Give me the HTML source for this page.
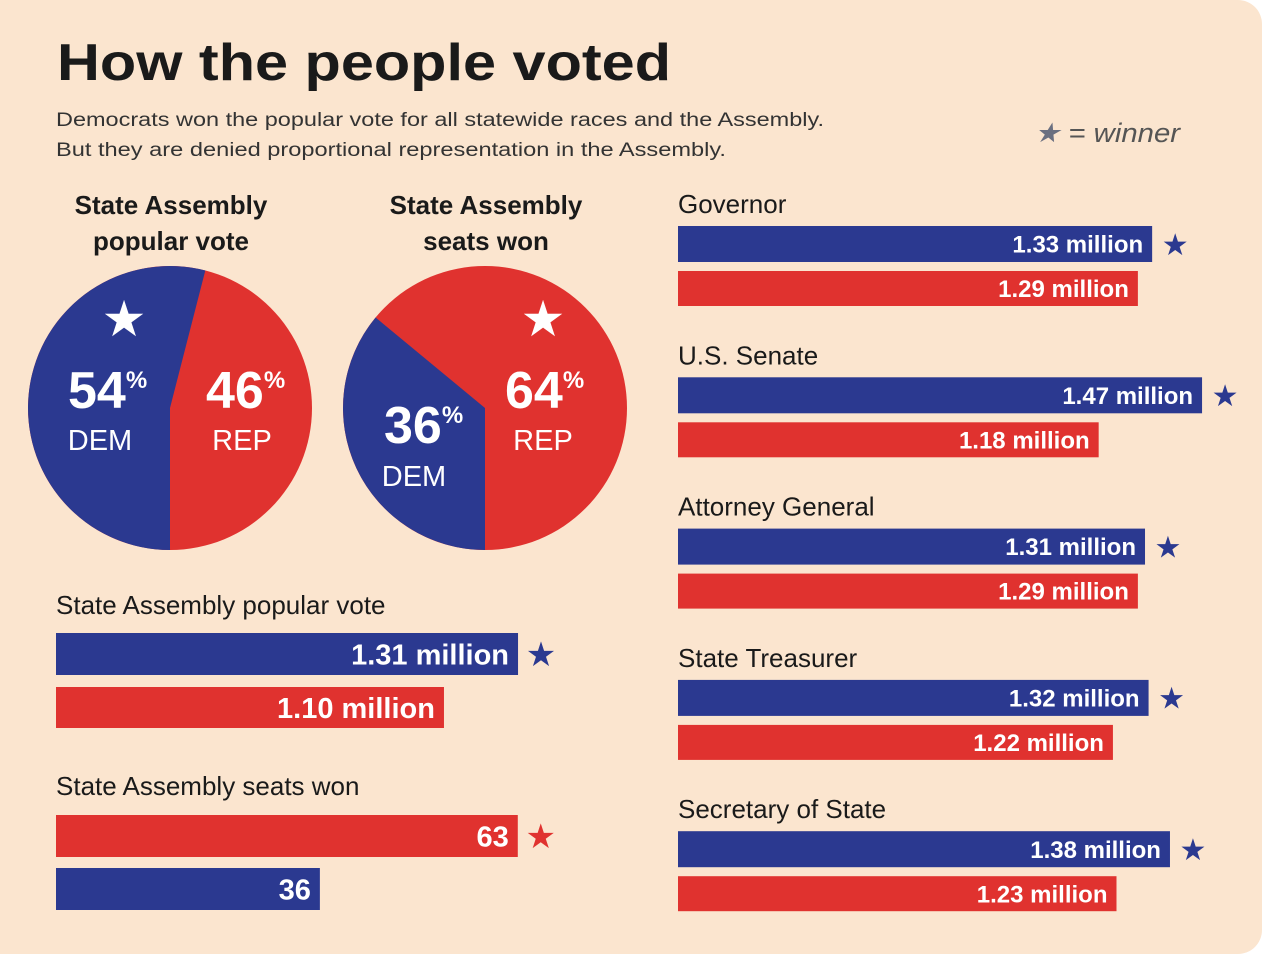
<!DOCTYPE html>
<html><head><meta charset="utf-8"><style>
html,body{margin:0;padding:0;background:#fff}
#wrap{width:1262px;height:954px;background:#fbe5cf;border-radius:0 24px 24px 0;overflow:hidden;position:relative}
svg{position:absolute;left:0;top:0}
text{font-family:"Liberation Sans",sans-serif}
</style></head><body>
<div id="wrap">
<svg id="c" width="1262" height="954">
<text x="57" y="80" font-size="52" font-weight="bold" fill="#1a1a1a" textLength="614" lengthAdjust="spacingAndGlyphs">How the people voted</text>
<text x="56" y="126" font-size="19" fill="#333" textLength="768" lengthAdjust="spacingAndGlyphs">Democrats won the popular vote for all statewide races and the Assembly.</text>
<text x="56" y="156" font-size="19" fill="#333" textLength="670" lengthAdjust="spacingAndGlyphs">But they are denied proportional representation in the Assembly.</text>
<text x="1034" y="142" font-size="27" font-style="italic" fill="#555" textLength="146" lengthAdjust="spacingAndGlyphs"><tspan fill="#6a6f80">★</tspan> = winner</text>
<text x="171" y="214" font-size="26" font-weight="bold" fill="#1a1a1a" text-anchor="middle">State Assembly</text>
<text x="171" y="250" font-size="26" font-weight="bold" fill="#1a1a1a" text-anchor="middle">popular vote</text>
<text x="486" y="214" font-size="26" font-weight="bold" fill="#1a1a1a" text-anchor="middle">State Assembly</text>
<text x="486" y="250" font-size="26" font-weight="bold" fill="#1a1a1a" text-anchor="middle">seats won</text>
</svg>
</div>
<script>
const BLUE="#2b3990", RED="#e0322f";
const pieDem=[54,36];
const pieRep=[46,64];
const pieWinner=["dem","rep"];
const leftCats=["State Assembly popular vote","State Assembly seats won"];
const leftVoteVals=[1.31,1.10];
const leftVoteLabels=["1.31 million","1.10 million"];
const leftSeatVals=[63,36];
const leftSeatLabels=["63","36"];
const raceCats=["Governor","U.S. Senate","Attorney General","State Treasurer","Secretary of State"];
const demVotes=[1.33,1.47,1.31,1.32,1.38];
const repVotes=[1.29,1.18,1.29,1.22,1.23];
const demLabels=["1.33 million","1.47 million","1.31 million","1.32 million","1.38 million"];
const repLabels=["1.29 million","1.18 million","1.29 million","1.22 million","1.23 million"];

const svg=document.getElementById('c');
const NS="http://www.w3.org/2000/svg";
function mk(tag,attrs,txt){const e=document.createElementNS(NS,tag);for(const k in attrs)e.setAttribute(k,attrs[k]);if(txt!==undefined)e.textContent=txt;svg.appendChild(e);return e;}

const pieCx=[170,485], pieCy=408, R=142;
function pt(cx,deg){const a=deg*Math.PI/180;return [cx+R*Math.sin(a),pieCy-R*Math.cos(a)];}
for(let i=0;i<2;i++){
  const cx=pieCx[i];
  const start=180, end=180+pieDem[i]*3.6;
  const [x1,y1]=pt(cx,start),[x2,y2]=pt(cx,end);
  const c=mk('circle',{cx:cx,cy:pieCy,r:R,fill:RED});
  
  
  const large=pieDem[i]>50?1:0;
  const p=mk('path',{d:`M${cx},${pieCy} L${x1},${y1} A${R},${R} 0 ${large} 1 ${x2},${y2} Z`,fill:BLUE});
  
  
}
function pctLabel(x,y,val,name){
  const t=mk('text',{x:x,y:y,'font-size':52,'font-weight':'bold',fill:'#fff'});
  t.innerHTML=val+'<tspan font-size="24" dy="-20">%</tspan>';
  
  
}
function partyLabel(x,y,s,name){
  const t=mk('text',{x:x,y:y,'font-size':29,fill:'#fff','text-anchor':'middle'},s);
  
  
}
function starAt(x,y,size,color,name){
  const t=mk('text',{x:x,y:y,'font-size':size,fill:color,'text-anchor':'middle'},'★');
  
  
}
pctLabel(68,408,pieDem[0],'pie1-dem-pct'); partyLabel(100,450,'DEM','pie1-dem-label');
pctLabel(206,408,pieRep[0],'pie1-rep-pct'); partyLabel(242,450,'REP','pie1-rep-label');
starAt(124,336,50,'#fff','pie1-star');
pctLabel(384,443,pieDem[1],'pie2-dem-pct'); partyLabel(414,486,'DEM','pie2-dem-label');
pctLabel(505,408,pieRep[1],'pie2-rep-pct'); partyLabel(543,450,'REP','pie2-rep-label');
starAt(543,336,50,'#fff','pie2-star');

function bar(x0,y,h,w,color,label,fs,name,star,starSize){
  const r=mk('rect',{x:x0,y:y,width:w,height:h,fill:color});
  
  
  const t=mk('text',{x:x0+w-9,y:y+h/2+fs*0.36,'font-size':fs,'font-weight':'bold',fill:'#fff','text-anchor':'end'},label);
  
  
  if(star) starAt(x0+w+23,y+h/2+starSize*0.36,starSize,star,name+'-star');
}
function cat(x,y,s,name){
  const t=mk('text',{x:x,y:y,'font-size':26,fill:'#1a1a1a'},s);
  
  
}
const lx=56, voteScale=352.7, seatScale=7.33;
cat(lx,614,leftCats[0],'left-vote-title');
bar(lx,633,42,leftVoteVals[0]*voteScale,BLUE,leftVoteLabels[0],29,'left-vote-dem-bar',leftVoteVals[0]>leftVoteVals[1]?BLUE:null,34);
bar(lx,687,41,leftVoteVals[1]*voteScale,RED,leftVoteLabels[1],29,'left-vote-rep-bar',leftVoteVals[1]>leftVoteVals[0]?RED:null,34);
cat(lx,795,leftCats[1],'left-seats-title');
bar(lx,815,42,leftSeatVals[0]*seatScale,RED,leftSeatLabels[0],29,'left-seats-rep-bar',leftSeatVals[0]>leftSeatVals[1]?RED:null,34);
bar(lx,868,42,leftSeatVals[1]*seatScale,BLUE,leftSeatLabels[1],29,'left-seats-dem-bar',leftSeatVals[1]>leftSeatVals[0]?BLUE:null,34);

const rx=678, rScale=356.5;
raceCats.forEach((c,i)=>{
  const y0=i*151.3;
  cat(rx,213+y0,c,'race-title-'+i);
  bar(rx,226+y0,36,demVotes[i]*rScale,BLUE,demLabels[i],24,'race-'+i+'-dem-bar',demVotes[i]>repVotes[i]?BLUE:null,30);
  bar(rx,271+y0,35,repVotes[i]*rScale,RED,repLabels[i],24,'race-'+i+'-rep-bar',repVotes[i]>demVotes[i]?RED:null,30);
});
</script>
</body></html>
